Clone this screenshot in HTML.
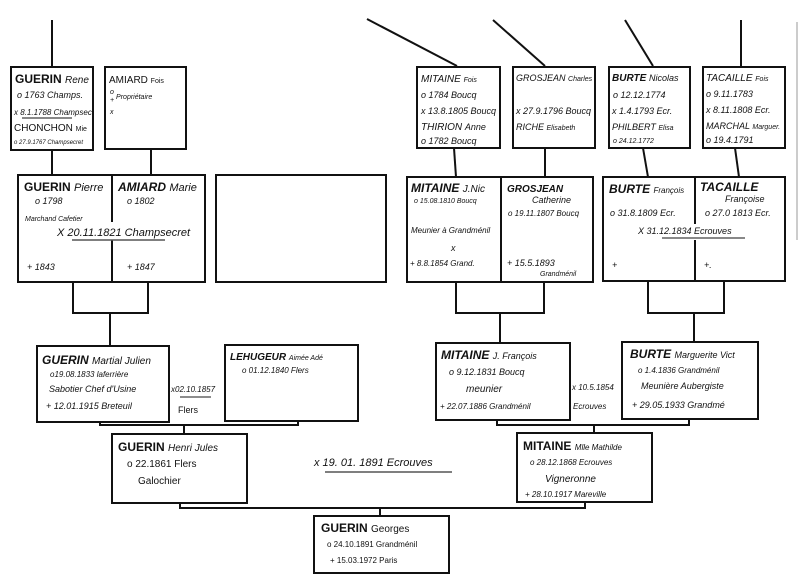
<!DOCTYPE html>
<html><head><meta charset="utf-8"><style>
html,body{margin:0;padding:0;background:#fff;}
svg{display:block;}
text{font-family:"Liberation Sans",sans-serif;font-style:italic;fill:#111;}
.n{font-size:12px;font-weight:bold;font-style:normal;}
.s{font-size:9px;}
.m{font-size:10px;}
.t{font-size:7px;}
rect{fill:#fff;stroke:#111;stroke-width:2;}
line,polyline{stroke:#111;stroke-width:2;fill:none;}
</style></head><body>
<svg width="800" height="581" viewBox="0 0 800 581">
<!-- top lines -->
<line x1="52" y1="20" x2="52" y2="67"/>
<line x1="367" y1="19" x2="457" y2="66"/>
<line x1="493" y1="20" x2="545" y2="66"/>
<line x1="625" y1="20" x2="653" y2="66"/>
<line x1="741" y1="20" x2="741" y2="67"/>
<line x1="797" y1="22" x2="797" y2="240" style="stroke:#999;stroke-width:1"/>
<!-- gen1 -> gen2 -->
<line x1="52" y1="150" x2="52" y2="175"/>
<line x1="151" y1="149" x2="151" y2="175"/>
<line x1="454" y1="148" x2="456" y2="177"/>
<line x1="545" y1="148" x2="545" y2="177"/>
<line x1="643" y1="148" x2="648" y2="177"/>
<line x1="735" y1="148" x2="739" y2="177"/>
<!-- gen2 -> gen3 -->
<polyline points="73,282 73,313 148,313 148,282"/>
<line x1="110" y1="313" x2="110" y2="346"/>
<polyline points="456,282 456,313 544,313 544,282"/>
<line x1="500" y1="313" x2="500" y2="343"/>
<polyline points="648,281 648,313 724,313 724,281"/>
<line x1="694" y1="313" x2="694" y2="342"/>
<!-- gen3 -> gen4 -->
<polyline points="100,422 100,425 298,425 298,421"/>
<line x1="184" y1="425" x2="184" y2="434"/>
<polyline points="497,420 497,425 689,425 689,419"/>
<line x1="594" y1="425" x2="594" y2="433"/>
<polyline points="180,503 180,508 585,508 585,502"/>
<line x1="380" y1="508" x2="380" y2="516"/>

<!-- gen1 boxes -->
<rect x="11" y="67" width="82" height="83"/>
<text x="15" y="83" class="n">GUERIN <tspan style="font-weight:normal;font-style:italic;font-size:10px">Rene</tspan></text>
<text x="17" y="98" class="s">o   1763 Champs.</text>
<text x="14" y="115" class="t" style="font-size:8px">x 8.1.1788 Champsec</text>
<line x1="22" y1="118" x2="72" y2="118" style="stroke-width:1"/>
<text x="14" y="131" class="m" style="font-style:normal">CHONCHON <tspan class="t">Mie</tspan></text>
<text x="14" y="144" class="t" style="font-size:6px">o 27.9.1767 Champsecret</text>

<rect x="105" y="67" width="81" height="82"/>
<text x="109" y="83" class="m" style="font-style:normal">AMIARD <tspan class="t">Fois</tspan></text>
<text x="110" y="94" class="t">o</text>
<text x="110" y="102" class="t">+ <tspan dy="-3">Propriétaire</tspan></text>
<text x="110" y="114" class="t">x</text>

<rect x="417" y="67" width="83" height="81"/>
<text x="421" y="82" class="m">MITAINE <tspan class="t">Fois</tspan></text>
<text x="421" y="98" class="s">o  1784 Boucq</text>
<text x="421" y="114" class="s">x 13.8.1805 Boucq</text>
<text x="421" y="130" class="m">THIRION <tspan class="s">Anne</tspan></text>
<text x="421" y="144" class="s">o   1782 Boucq</text>

<rect x="513" y="67" width="82" height="81"/>
<text x="516" y="81" class="s">GROSJEAN <tspan class="t">Charles</tspan></text>
<text x="516" y="114" class="s">x 27.9.1796 Boucq</text>
<text x="516" y="130" class="s">RICHE <tspan class="t">Elisabeth</tspan></text>

<rect x="609" y="67" width="81" height="81"/>
<text x="612" y="81" class="m" style="font-weight:bold">BURTE <tspan class="s" style="font-weight:normal">Nicolas</tspan></text>
<text x="613" y="98" class="s">o 12.12.1774</text>
<text x="612" y="114" class="s">x 1.4.1793 Ecr.</text>
<text x="612" y="130" class="s">PHILBERT <tspan class="t">Elisa</tspan></text>
<text x="613" y="143" class="t">o 24.12.1772</text>

<rect x="703" y="67" width="82" height="81"/>
<text x="706" y="81" class="m">TACAILLE <tspan class="t">Fois</tspan></text>
<text x="706" y="97" class="s">o 9.11.1783</text>
<text x="706" y="113" class="s">x 8.11.1808 Ecr.</text>
<text x="706" y="129" class="s">MARCHAL <tspan class="t">Marguer.</tspan></text>
<text x="706" y="143" class="s">o 19.4.1791</text>

<!-- gen2 boxes -->
<rect x="18" y="175" width="187" height="107"/>
<line x1="112" y1="175" x2="112" y2="222"/>
<line x1="112" y1="240" x2="112" y2="282"/>
<text x="24" y="191" class="n">GUERIN <tspan style="font-weight:normal;font-style:italic;font-size:11px">Pierre</tspan></text>
<text x="35" y="204" class="s">o        1798</text>
<text x="25" y="221" class="t">Marchand  Cafetier</text>
<text x="57" y="236" style="font-size:11px">X  20.11.1821 Champsecret</text>
<line x1="72" y1="240" x2="165" y2="240" style="stroke-width:1.5;stroke:#555"/>
<text x="27" y="270" class="s">+          1843</text>
<text x="118" y="191" class="n" style="font-style:italic">AMIARD <tspan style="font-weight:normal;font-size:11px">Marie</tspan></text>
<text x="127" y="204" class="s">o         1802</text>
<text x="127" y="270" class="s">+          1847</text>

<rect x="216" y="175" width="170" height="107"/>

<rect x="407" y="177" width="186" height="105"/>
<line x1="501" y1="177" x2="501" y2="282"/>
<text x="411" y="192" class="n" style="font-style:italic">MITAINE <tspan style="font-weight:normal;font-size:10px">J.Nic</tspan></text>
<text x="414" y="203" class="t">o 15.08.1810 Boucq</text>
<text x="411" y="233" class="t" style="font-size:8px">Meunier à Grandménil</text>
<text x="451" y="251" class="s">x</text>
<text x="410" y="266" class="t" style="font-size:8px">+ 8.8.1854 Grand.</text>
<text x="507" y="192" class="m" style="font-weight:bold">GROSJEAN</text>
<text x="532" y="203" class="s">Catherine</text>
<text x="508" y="216" class="t" style="font-size:8px">o 19.11.1807 Boucq</text>
<text x="507" y="266" class="s">+ 15.5.1893</text>
<text x="540" y="276" class="t">Grandménil</text>

<rect x="603" y="177" width="182" height="104"/>
<line x1="695" y1="177" x2="695" y2="224"/>
<line x1="695" y1="240" x2="695" y2="281"/>
<text x="609" y="193" class="n" style="font-style:italic">BURTE <tspan style="font-weight:normal;font-size:8px">François</tspan></text>
<text x="610" y="216" class="s">o 31.8.1809 Ecr.</text>
<text x="638" y="234" class="s">X  31.12.1834   Ecrouves</text>
<line x1="662" y1="238" x2="745" y2="238" style="stroke-width:1"/>
<text x="612" y="268" class="s">+</text>
<text x="700" y="191" class="n" style="font-style:italic">TACAILLE</text>
<text x="725" y="202" class="s">Françoise</text>
<text x="705" y="216" class="s">o 27.0 1813 Ecr.</text>
<text x="704" y="268" class="s">+.</text>

<!-- gen3 -->
<rect x="37" y="346" width="132" height="76"/>
<text x="42" y="364" class="n" style="font-style:italic">GUERIN <tspan style="font-weight:normal;font-size:10px">Martial Julien</tspan></text>
<text x="50" y="377" class="t" style="font-size:8px">o19.08.1833   laferrière</text>
<text x="49" y="392" class="s">Sabotier Chef d'Usine</text>
<text x="46" y="409" class="s">+ 12.01.1915   Breteuil</text>
<text x="171" y="392" class="t" style="font-size:8px">x02.10.1857</text>
<line x1="180" y1="397" x2="211" y2="397" style="stroke-width:1.5;stroke:#666"/>
<text x="178" y="413" class="s" style="font-style:normal">Flers</text>

<rect x="225" y="345" width="133" height="76"/>
<text x="230" y="360" class="m" style="font-weight:bold">LEHUGEUR <tspan class="t" style="font-weight:normal">Aimée Adé</tspan></text>
<text x="242" y="373" class="t" style="font-size:8px">o 01.12.1840   Flers</text>

<rect x="436" y="343" width="134" height="77"/>
<text x="441" y="359" class="n" style="font-style:italic">MITAINE <tspan style="font-weight:normal;font-size:9px">J. François</tspan></text>
<text x="449" y="375" class="s">o  9.12.1831   Boucq</text>
<text x="466" y="392" class="m">meunier</text>
<text x="440" y="409" class="t" style="font-size:8px">+ 22.07.1886 Grandménil</text>
<text x="572" y="390" class="t" style="font-size:8px">x 10.5.1854</text>
<text x="573" y="409" class="t" style="font-size:8px">Ecrouves</text>

<rect x="622" y="342" width="136" height="77"/>
<text x="630" y="358" class="n" style="font-style:italic">BURTE <tspan style="font-weight:normal;font-size:9px">Marguerite Vict</tspan></text>
<text x="638" y="373" class="t" style="font-size:8px">o 1.4.1836 Grandménil</text>
<text x="641" y="389" class="s">Meunière Aubergiste</text>
<text x="632" y="408" class="s">+ 29.05.1933 Grandmé</text>

<!-- gen4 -->
<rect x="112" y="434" width="135" height="69"/>
<text x="118" y="451" class="n">GUERIN <tspan style="font-weight:normal;font-style:italic;font-size:10px">Henri Jules</tspan></text>
<text x="127" y="467" class="m" style="font-style:normal">o 22.1861   Flers</text>
<text x="138" y="484" class="m" style="font-style:normal">Galochier</text>
<text x="314" y="466" style="font-size:11px">x 19. 01. 1891  Ecrouves</text>
<line x1="325" y1="472" x2="452" y2="472" style="stroke-width:1.5;stroke:#555"/>

<rect x="517" y="433" width="135" height="69"/>
<text x="523" y="450" class="n" style="font-style:normal">MITAINE <tspan style="font-weight:normal;font-style:italic;font-size:8px">Mlle Mathilde</tspan></text>
<text x="530" y="465" class="t" style="font-size:8px">o 28.12.1868 Ecrouves</text>
<text x="545" y="482" class="m">Vigneronne</text>
<text x="525" y="497" class="t" style="font-size:8px">+ 28.10.1917  Mareville</text>

<!-- gen5 -->
<rect x="314" y="516" width="135" height="57"/>
<text x="321" y="532" class="n">GUERIN <tspan style="font-weight:normal;font-size:10px">Georges</tspan></text>
<text x="327" y="547" class="t" style="font-size:8px;font-style:normal">o 24.10.1891 Grandménil</text>
<text x="330" y="563" class="t" style="font-size:8px;font-style:normal">+ 15.03.1972    Paris</text>
</svg>
</body></html>
